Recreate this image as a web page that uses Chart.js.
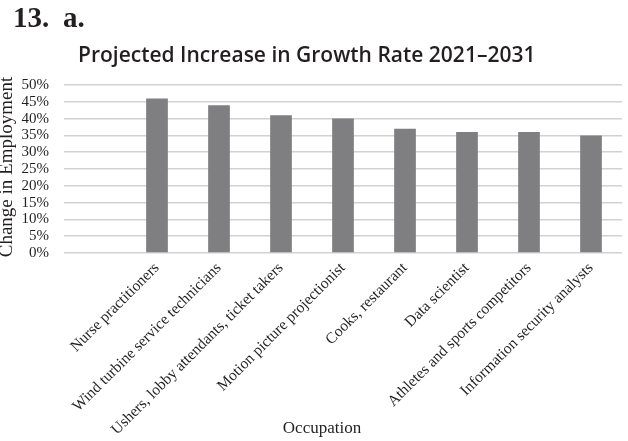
<!DOCTYPE html>
<html>
<head>
<meta charset="utf-8">
<script src="https://cdn.jsdelivr.net/npm/chart.js@4/dist/chart.umd.min.js"></script>
<style>
  html, body { margin: 0; padding: 0; background: #fff; }
  #wrap { position: relative; width: 628px; height: 441px; }
</style>
</head>
<body>
<div id="wrap"><canvas id="growthChart" width="628" height="441"></canvas></div>
<script>
// Datos (primera categoria vacia, como en el original)
const occupations = [
  "",
  "Nurse practitioners",
  "Wind turbine service technicians",
  "Ushers, lobby attendants, ticket takers",
  "Motion picture projectionist",
  "Cooks, restaurant",
  "Data scientist",
  "Athletes and sports competitors",
  "Information security analysts",
];
const growthPct = [null, 46, 44, 41, 40, 37, 36, 36, 35];
const yMin = 0;
const yMax = 50;
const yStep = 5;

const headerText = "13.";
const subText = "a.";
const chartTitle = "Projected Increase in Growth Rate 2021\u20132031";
const yTitle = "Change in Employment";
const xTitle = "Occupation";

const serif = "'Liberation Serif', 'Times New Roman', serif";
const inkColor = "#231f20";

// Textos fuera del area del grafico
const extraText = {
  id: "extraText",
  afterDraw(chart) {
    const ctx = chart.ctx;
    ctx.save();
    ctx.fillStyle = inkColor;
    ctx.textBaseline = "alphabetic";

    ctx.font = "bold 29px " + serif;
    ctx.textAlign = "left";
    ctx.fillText(headerText, 13, 27);
    ctx.fillText(subText, 63, 27);

    ctx.font = "600 21px 'Open Sans', sans-serif";
    ctx.fillText(chartTitle, 78, 62);

    ctx.font = "17px " + serif;
    ctx.textAlign = "center";
    ctx.fillText(xTitle, 322, 433);

    ctx.translate(12, 167);
    ctx.rotate(-Math.PI / 2);
    ctx.font = "19px " + serif;
    ctx.fillText(yTitle, 0, 0);
    ctx.restore();
  },
};

document.addEventListener("DOMContentLoaded", function () {
  const ctx = document.getElementById("growthChart").getContext("2d");
  new Chart(ctx, {
    type: "bar",
    data: {
      labels: occupations,
      datasets: [
        {
          label: "Change in Employment",
          data: growthPct,
          backgroundColor: "#7f7f82",
          borderWidth: 0,
          categoryPercentage: 1,
          barPercentage: 0.35,
        },
      ],
    },
    options: {
      responsive: false,
      animation: false,
      layout: { padding: { top: 85, right: 6, bottom: 0, left: 20 } },
      plugins: {
        legend: { display: false },
        tooltip: { enabled: false },
      },
      scales: {
        x: {
          grid: { display: false, drawTicks: false },
          border: { display: false },
          ticks: {
            color: inkColor,
            font: { family: serif, size: 15.5 },
            minRotation: 45,
            maxRotation: 45,
            autoSkip: false,
            padding: 6,
          },
          afterFit: function (scale) {
            scale.height = 188;
          },
        },
        y: {
          min: yMin,
          max: yMax,
          grid: { color: "#d2d2d2", lineWidth: 1.5, drawTicks: false },
          border: { display: false },
          ticks: {
            stepSize: yStep,
            autoSkip: false,
            color: inkColor,
            font: { family: serif, size: 15 },
            padding: 15,
            callback: function (value) {
              return value + "%";
            },
          },
          afterFit: function (scale) {
            scale.width = 44;
          },
        },
      },
    },
    plugins: [extraText],
  });
});
</script>
</body>
</html>
